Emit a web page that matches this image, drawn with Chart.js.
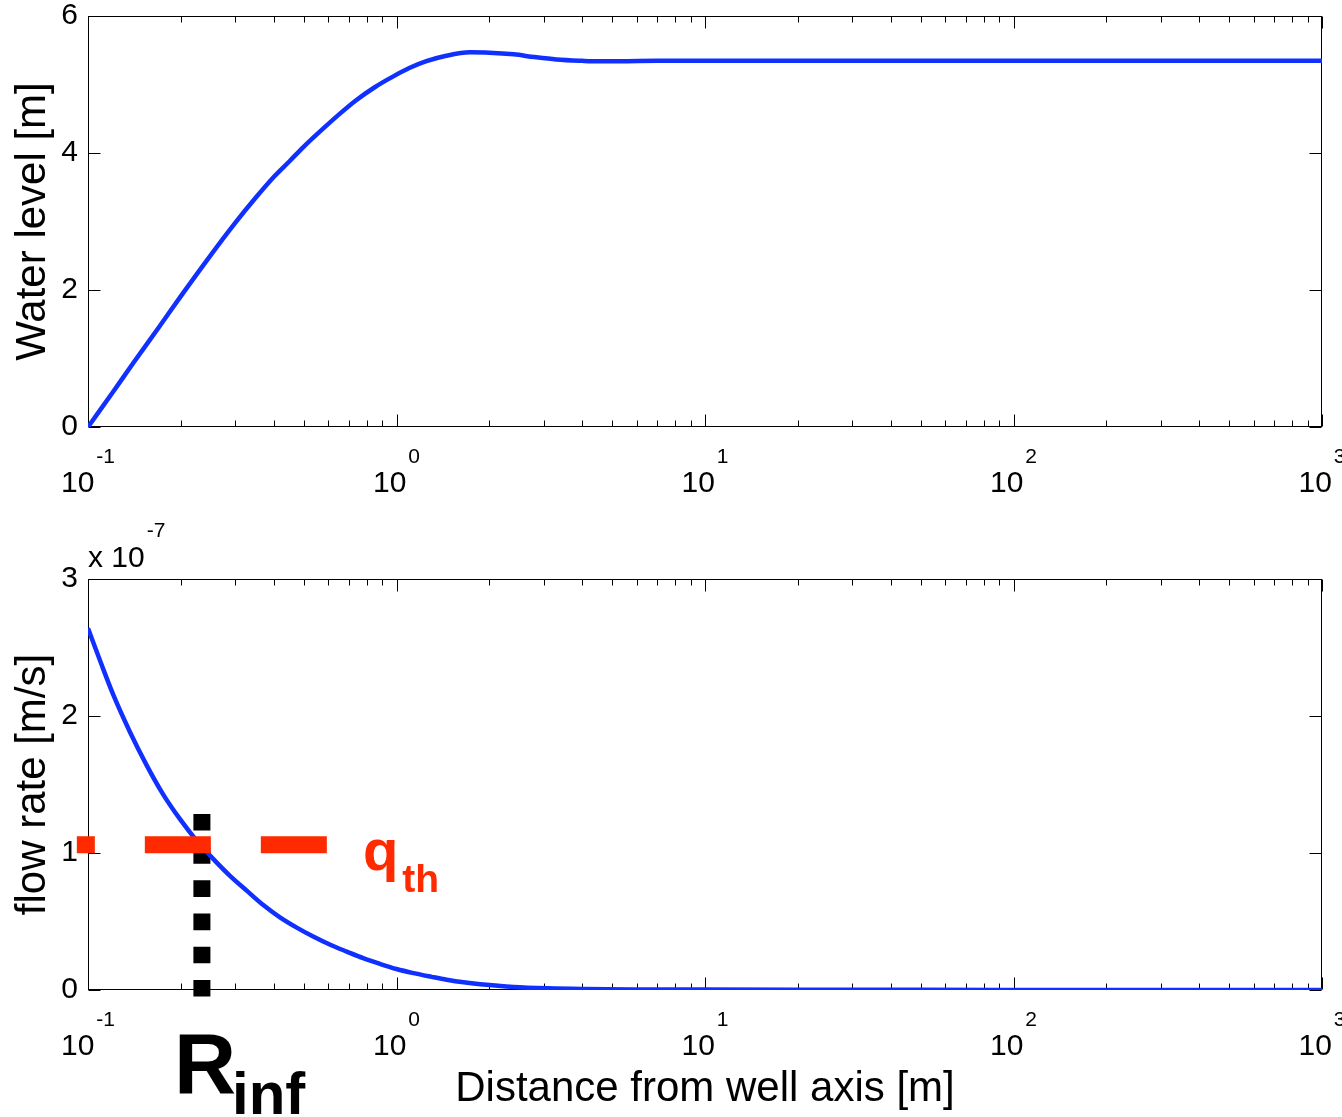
<!DOCTYPE html>
<html>
<head>
<meta charset="utf-8">
<script src="https://cdn.jsdelivr.net/npm/chart.js@4"></script>
<style>
  html, body { margin: 0; padding: 0; background: #fff; }
  #wrap { position: relative; width: 1342px; height: 1117px; }
  canvas { position: absolute; left: 0; top: 0; }
</style>
</head>
<body>
<div id="wrap">
  <canvas id="levelChart" width="1342" height="1117"></canvas>
  <canvas id="flowChart" width="1342" height="1117"></canvas>
</div>
<script>
// distance from well axis [m] and water level [m]
const levelDist = [0.1, 0.12, 0.14, 0.17, 0.2, 0.25, 0.3, 0.35, 0.4, 0.45, 0.5, 0.57, 0.65, 0.74, 0.85, 0.96, 1.1, 1.25, 1.45, 1.73, 2.0, 2.4, 2.8, 3.3, 4.0, 4.5, 5.5, 7, 10, 30, 100, 300, 1000];
const waterLevel = [0, 0.50, 0.93, 1.46, 1.91, 2.51, 2.98, 3.35, 3.65, 3.88, 4.09, 4.33, 4.56, 4.77, 4.96, 5.10, 5.24, 5.34, 5.42, 5.47, 5.465, 5.44, 5.40, 5.365, 5.345, 5.338, 5.34, 5.345, 5.345, 5.345, 5.345, 5.345, 5.345];

// flow rate, in units of 1e-7 m/s
const flowDist = [0.1, 0.11, 0.121, 0.137, 0.155, 0.175, 0.199, 0.225, 0.255, 0.288, 0.327, 0.37, 0.419, 0.475, 0.537, 0.61, 0.69, 0.78, 0.885, 1.0, 1.135, 1.3, 1.455, 1.65, 1.87, 2.4, 3.1, 4, 6, 10, 20, 50, 100, 1000];
const flowRate = [2.64, 2.39, 2.15, 1.88, 1.64, 1.43, 1.245, 1.09, 0.955, 0.835, 0.725, 0.62, 0.53, 0.455, 0.39, 0.33, 0.28, 0.232, 0.19, 0.153, 0.123, 0.096, 0.075, 0.056, 0.042, 0.022, 0.012, 0.007, 0.004, 0.003, 0.002, 0.001, 0.0005, 0];

const xTickExps = [-1, 0, 1, 2, 3];
const levelTicks = [0, 2, 4, 6];
const flowTicks = [0, 1, 2, 3];

// threshold line and influence radius
const qTh = 1.06;
const qLineX = [0.092, 0.595];
const rInf = 0.234;
const rLineY = [1.285, -0.05];

const BLUE = "#1030ff";
const RED = "#ff2a00";
const FONT = '"Liberation Sans", Arial, Helvetica, sans-serif';

Chart.defaults.font.family = FONT;
Chart.defaults.color = "#000";

// MATLAB style box with inward ticks and 10^n labels
const framePlugin = {
  id: "frame",
  beforeDatasetsDraw(chart) {
    const {ctx, chartArea: a, scales: {x, y}} = chart;
    const L = Math.round(a.left) + 0.5, R = Math.round(a.right) - 0.5;
    const T = Math.round(a.top) + 0.5, B = Math.round(a.bottom) - 0.5;
    ctx.save();
    ctx.strokeStyle = "#000";
    ctx.lineWidth = 1;
    ctx.strokeRect(L, T, R - L, B - T);
    ctx.beginPath();
    xTickExps.forEach((e, i) => {
      const px = Math.round(x.getPixelForValue(Math.pow(10, e))) + 0.5;
      ctx.moveTo(px, B); ctx.lineTo(px, B - 12);
      ctx.moveTo(px, T); ctx.lineTo(px, T + 12);
      if (i < xTickExps.length - 1) {
        for (let k = 2; k <= 9; k++) {
          const mx = Math.round(x.getPixelForValue(k * Math.pow(10, e))) + 0.5;
          ctx.moveTo(mx, B); ctx.lineTo(mx, B - 6);
          ctx.moveTo(mx, T); ctx.lineTo(mx, T + 6);
        }
      }
    });
    y.ticks.forEach(t => {
      const py = Math.round(y.getPixelForValue(t.value)) + 0.5;
      ctx.moveTo(L, py); ctx.lineTo(L + 12, py);
      ctx.moveTo(R, py); ctx.lineTo(R - 12, py);
    });
    ctx.stroke();
    ctx.restore();
  },
  afterDraw(chart) {
    const {ctx, chartArea: a, scales: {x}} = chart;
    ctx.save();
    ctx.fillStyle = "#000";
    ctx.textBaseline = "alphabetic";
    ctx.textAlign = "left";
    xTickExps.forEach(e => {
      const px = x.getPixelForValue(Math.pow(10, e));
      ctx.font = "30px " + FONT;
      const w1 = ctx.measureText("10").width;
      ctx.font = "21px " + FONT;
      const ex = e < 0 ? "-" + Math.abs(e) : String(e);
      const w2 = ctx.measureText(ex).width;
      const left = px - (w1 + 2 + w2) / 2;
      ctx.font = "30px " + FONT;
      ctx.fillText("10", left, a.bottom + 65);
      ctx.font = "21px " + FONT;
      ctx.fillText(ex, left + w1 + 2, a.bottom + 36);
    });
    ctx.restore();
  }
};

const notePlugin = {
  id: "notes",
  afterDraw(chart) {
    const {ctx, chartArea: a, scales: {x, y}} = chart;
    ctx.save();
    ctx.textAlign = "left";
    ctx.textBaseline = "alphabetic";
    // x 10^-7
    ctx.fillStyle = "#000";
    ctx.font = "30px " + FONT;
    ctx.fillText("x 10", a.left, a.top - 12);
    const w = ctx.measureText("x 10").width;
    ctx.font = "21px " + FONT;
    ctx.fillText("-7", a.left + w + 2, a.top - 42);
    // q_th
    ctx.fillStyle = RED;
    const qx = x.getPixelForValue(qLineX[1]) + 36;
    const qy = y.getPixelForValue(qTh) + 25;
    ctx.font = "bold 58px " + FONT;
    ctx.fillText("q", qx, qy);
    const qw = ctx.measureText("q").width;
    ctx.font = "bold 39px " + FONT;
    ctx.fillText("th", qx + qw + 4, qy + 22);
    // R_inf
    ctx.fillStyle = "#000";
    const rx = x.getPixelForValue(rInf) - 28;
    const ry = y.getPixelForValue(0) + 103;
    ctx.font = "bold 86px " + FONT;
    ctx.fillText("R", rx, ry);
    const rw = ctx.measureText("R").width;
    ctx.font = "bold 60px " + FONT;
    ctx.fillText("inf", rx + rw - 4, ry + 21);
    ctx.restore();
  }
};

function xAxis(height, title) {
  return {
    type: "logarithmic",
    min: 0.1,
    max: 1000,
    ticks: { display: false },
    grid: { display: false, drawTicks: false },
    border: { display: false },
    title: title
      ? { display: true, text: title, color: "#000", font: { size: 42 }, padding: { top: 0, bottom: 2 } }
      : { display: false },
    afterFit: s => { s.height = height; s.paddingLeft = 0; s.paddingRight = 0; }
  };
}

function yAxis(max, tickVals, title) {
  return {
    min: 0,
    max: max,
    afterBuildTicks: s => { s.ticks = tickVals.map(v => ({ value: v })); },
    ticks: { font: { size: 30 }, color: "#000", padding: 10 },
    grid: { display: false, drawTicks: false },
    border: { display: false },
    title: { display: true, text: title, color: "#000", font: { size: 42 }, padding: { top: 8, bottom: 0 } },
    afterFit: s => { s.width = 88; s.paddingTop = 0; s.paddingBottom = 0; }
  };
}

const common = {
  responsive: false,
  animation: false,
  devicePixelRatio: 1,
  plugins: { legend: { display: false }, tooltip: { enabled: false } }
};

new Chart(document.getElementById("levelChart"), {
  type: "line",
  data: {
    datasets: [{
      data: levelDist.map((d, i) => ({ x: d, y: waterLevel[i] })),
      borderColor: BLUE,
      borderWidth: 4.5,
      pointRadius: 0,
      cubicInterpolationMode: "monotone"
    }]
  },
  options: Object.assign({}, common, {
    layout: { padding: { top: 16, right: 20, left: 0, bottom: 0 } },
    scales: { x: xAxis(1117 - 427), y: yAxis(6, levelTicks, "Water level [m]") }
  }),
  plugins: [framePlugin]
});

new Chart(document.getElementById("flowChart"), {
  type: "line",
  data: {
    datasets: [
      {
        data: qLineX.map(d => ({ x: d, y: qTh })),
        borderColor: RED,
        borderWidth: 17,
        borderDash: [66, 50],
        borderDashOffset: 48,
        borderCapStyle: "butt",
        pointRadius: 0,
        clip: false,
        order: 0
      },
      {
        data: flowDist.map((d, i) => ({ x: d, y: flowRate[i] })),
        borderColor: BLUE,
        borderWidth: 4.5,
        pointRadius: 0,
        cubicInterpolationMode: "monotone",
        order: 1
      },
      {
        data: rLineY.map(v => ({ x: rInf, y: v })),
        borderColor: "#000",
        borderWidth: 17,
        borderDash: [16.6, 16.6],
        borderCapStyle: "butt",
        pointRadius: 0,
        clip: false,
        order: 2
      }
    ]
  },
  options: Object.assign({}, common, {
    layout: { padding: { top: 579, right: 20, left: 0, bottom: 0 } },
    scales: { x: xAxis(1117 - 990, "Distance from well axis [m]"), y: yAxis(3, flowTicks, "flow rate [m/s]") }
  }),
  plugins: [framePlugin, notePlugin]
});
</script>
</body>
</html>
